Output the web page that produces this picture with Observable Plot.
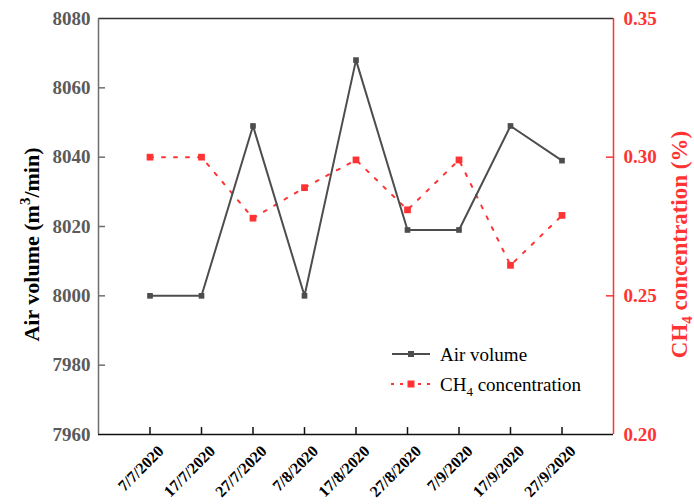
<!DOCTYPE html>
<html><head><meta charset="utf-8">
<script src="https://cdn.jsdelivr.net/npm/d3@7"></script>
<script src="https://cdn.jsdelivr.net/npm/@observablehq/plot@0.6"></script>
<style>
body{margin:0;background:#fff;}
#wrap{position:relative;width:694px;height:504px;font-family:"Liberation Serif","Times New Roman",serif;}
.lg{position:absolute;font-size:19px;color:#000;white-space:nowrap;line-height:1;}
</style></head><body><div id="wrap"></div>
<script>
const dates = ["7/7/2020","17/7/2020","27/7/2020","7/8/2020","17/8/2020","27/8/2020","7/9/2020","17/9/2020","27/9/2020"];
const airVolume = [8000, 8000, 8049, 8000, 8068, 8019, 8019, 8049, 8039];
const ch4 = [0.300, 0.300, 0.278, 0.289, 0.299, 0.281, 0.299, 0.261, 0.279];
const leftTicks = [7960, 7980, 8000, 8020, 8040, 8060, 8080];
const rightTicks = [0.20, 0.25, 0.30, 0.35];

const yMin = 7960, yMax = 8080, cMin = 0.20, cMax = 0.35;
const toY = v => yMin + (v - cMin) / (cMax - cMin) * (yMax - yMin);
const fromY = y => cMin + (y - yMin) / (yMax - yMin) * (cMax - cMin);

const idx = dates.map((d, i) => i);
const airData = idx.map(i => ({i, v: airVolume[i]}));
const ch4Data = idx.map(i => ({i, v: toY(ch4[i])}));

const GRAY = "#4d4d4d", RED = "#ff3333";
const tx = 0.136, ty = 2.0; // inward tick lengths in data units (~7px)

const plot = Plot.plot({
  width: 694, height: 504,
  marginLeft: 98, marginRight: 81, marginTop: 18, marginBottom: 70,
  style: {fontFamily: "'Liberation Serif','Times New Roman',serif", background: "#fff", overflow: "visible"},
  x: {domain: [-1, 9], axis: null},
  y: {domain: [yMin, yMax], axis: null},
  marks: [
    // frame
    Plot.ruleY([yMax], {stroke: "#333", strokeWidth: 1.5}),
    Plot.ruleY([yMin], {stroke: "#111", strokeWidth: 1.5}),
    Plot.ruleX([-1], {stroke: "#6e6e6e", strokeWidth: 1.5}),
    Plot.ruleX([9], {stroke: RED, strokeWidth: 1.5}),
    // inward ticks
    Plot.ruleY(leftTicks.slice(1, -1), {x1: -1, x2: -1 + tx, stroke: "#6e6e6e", strokeWidth: 1.5}),
    Plot.ruleY(rightTicks.slice(1, -1).map(toY), {x1: 9 - tx, x2: 9, stroke: RED, strokeWidth: 1.5}),
    Plot.ruleX(idx, {y1: yMin, y2: yMin + ty, stroke: "#111", strokeWidth: 1.5}),
    // axes labels
    Plot.axisY({ticks: leftTicks, anchor: "left", tickSize: 0, tickPadding: 8, label: null,
      fontSize: 19, fontWeight: "bold", fill: "#5a5a5a", tickFormat: d => String(d)}),
    Plot.axisY({ticks: rightTicks.map(toY), anchor: "right", tickSize: 0, tickPadding: 10, label: null,
      fontSize: 19, fontWeight: "bold", fill: RED, tickFormat: d => fromY(d).toFixed(2)}),
    Plot.text(idx, {x: d => d, frameAnchor: "bottom", text: i => dates[i], rotate: -45,
      textAnchor: "end", lineAnchor: "middle", dx: 11, dy: 14, fontSize: 16, fontWeight: "bold", fill: "#000"}),
    // titles
    Plot.text(["Air volume (m3/min)"], {frameAnchor: "left", rotate: -90, dx: -67, dy: 18, textAnchor: "middle",
      fontSize: 22, fontWeight: "bold", fill: "#000", lineAnchor: "middle"}),
    Plot.text(["CH4 concentration (%)"], {frameAnchor: "right", rotate: -90, dx: 66, dy: 18, textAnchor: "middle",
      fontSize: 23, fontWeight: "bold", fill: RED, lineAnchor: "middle"}),
    // series
    Plot.line(ch4Data, {x: "i", y: "v", stroke: RED, strokeWidth: 2, strokeDasharray: "3,9"}),
    Plot.line(airData, {x: "i", y: "v", stroke: GRAY, strokeWidth: 2}),
    Plot.dot(airData, {x: "i", y: "v", symbol: "square", r: 3.2, fill: GRAY, stroke: "none"}),
    Plot.dot(ch4Data, {x: "i", y: "v", symbol: "square", r: 3.8, fill: RED, stroke: "none"})
  ]
});

// superscript / subscript in titles
d3.select(plot).selectAll("text").each(function() {
  const t = this.textContent;
  if (t === "Air volume (m3/min)") {
    const s = d3.select(this); s.text(null);
    s.append("tspan").text("Air volume (m");
    s.append("tspan").attr("dy", -9).attr("font-size", 15).text("3");
    s.append("tspan").attr("dy", 9).text("/min)");
  } else if (t === "CH4 concentration (%)") {
    const s = d3.select(this); s.text(null);
    s.append("tspan").text("CH");
    s.append("tspan").attr("dy", 5).attr("font-size", 15).text("4");
    s.append("tspan").attr("dy", -5).text(" concentration (%)");
  }
});

const wrap = document.getElementById("wrap");
wrap.appendChild(plot);

// legend
const lg = document.createElementNS("http://www.w3.org/2000/svg", "svg");
lg.setAttribute("width", 50); lg.setAttribute("height", 66);
lg.style.position = "absolute"; lg.style.left = "388px"; lg.style.top = "324px";
lg.innerHTML = `
  <line x1="4" x2="42" y1="30" y2="30" stroke="${GRAY}" stroke-width="2"/>
  <rect x="20" y="27" width="6" height="6" fill="${GRAY}"/>
  <line x1="3" x2="44" y1="60" y2="60" stroke="${RED}" stroke-width="2" stroke-dasharray="3,6"/>
  <rect x="19.5" y="56.5" width="7" height="7" fill="${RED}"/>`;
wrap.appendChild(lg);
const t1 = document.createElement("div"); t1.className = "lg";
t1.style.left = "440px"; t1.style.top = "345px"; t1.textContent = "Air volume";
const t2 = document.createElement("div"); t2.className = "lg";
t2.style.left = "440px"; t2.style.top = "375px"; t2.innerHTML = "CH<sub style='font-size:13px'>4</sub> concentration";
wrap.appendChild(t1); wrap.appendChild(t2);
</script></body></html>
